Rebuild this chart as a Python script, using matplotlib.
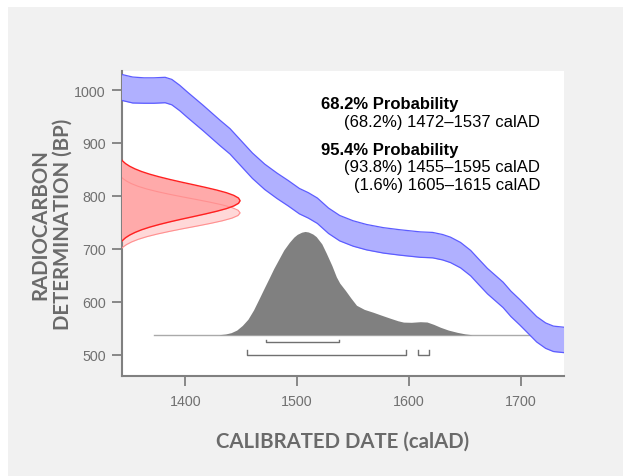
import matplotlib
matplotlib.use("Agg")
import matplotlib.pyplot as plt
from matplotlib.patches import Rectangle

# ---------------- data ----------------
# calibration curve (calAD, BP centre) and half-width of the band (BP)
curve_year = [1343, 1353, 1363, 1372, 1382, 1388, 1395, 1402, 1416, 1431, 1440, 1450,
              1460, 1471, 1482, 1492, 1502, 1510, 1518, 1528, 1538, 1550, 1562, 1577,
              1592, 1610, 1621, 1630, 1637, 1646, 1655, 1662, 1670, 1677, 1684, 1691,
              1699, 1707, 1714, 1722, 1729, 1738]
curve_bp = [1005, 1000, 999, 999, 1000, 996, 985, 972, 947, 919, 903, 880,
            857, 836, 819, 805, 790, 782, 772, 753, 739, 729, 722, 716,
            712, 708, 707, 703, 698, 688, 673, 657, 639, 626, 613, 596,
            580, 563, 548, 536, 530, 528]
curve_halfwidth = [24.5, 24.5, 24, 24, 24, 24, 24, 24, 24, 24, 24, 24,
                   24, 24, 24, 24, 24, 24, 24, 24, 24, 24, 24, 24,
                   24, 24, 24, 24, 24, 24, 24, 24, 24, 24, 24, 24,
                   24, 24, 24, 24, 24, 24]

# radiocarbon determination (BP offsets from centre, relative probability)
det_mean = 791
det_offset = [-90, -85, -80, -75, -70, -65, -60, -55, -50, -45, -40, -35, -30, -25, -20,
              -15, -10, -5, 0, 5, 10, 15, 20, 25, 30, 35, 40, 45, 50, 55, 60, 65, 70,
              75, 80, 85, 90]
det_prob = [0.015, 0.023, 0.036, 0.054, 0.078, 0.111, 0.154, 0.207, 0.272, 0.349, 0.435,
            0.528, 0.626, 0.722, 0.812, 0.89, 0.949, 0.987, 1.0, 0.987, 0.949, 0.89,
            0.812, 0.722, 0.626, 0.528, 0.435, 0.349, 0.272, 0.207, 0.154, 0.111, 0.078,
            0.054, 0.036, 0.023, 0.015]
det2_mean = 768
det2_offset = [-80, -75, -70, -65, -60, -55, -50, -45, -40, -35, -30, -25, -20, -15, -10,
               -5, 0, 5, 10, 15, 20, 25, 30, 35, 40, 45, 50, 55, 60, 65, 70, 75, 80]
det2_prob = [0.012, 0.021, 0.035, 0.055, 0.085, 0.126, 0.18, 0.249, 0.334, 0.432, 0.539,
             0.652, 0.76, 0.857, 0.934, 0.983, 1.0, 0.983, 0.934, 0.857, 0.76, 0.652,
             0.539, 0.432, 0.334, 0.249, 0.18, 0.126, 0.085, 0.055, 0.035, 0.021, 0.012]

# calibrated date distribution (calAD, relative probability)
post_year = [1430, 1436, 1441, 1446, 1451, 1456, 1461, 1466, 1470, 1475, 1479, 1484, 1488,
             1493, 1497, 1500, 1504, 1507, 1510, 1514, 1517, 1522, 1526, 1531, 1535, 1538,
             1543, 1548, 1553, 1560, 1568, 1575, 1583, 1590, 1595, 1602, 1610, 1616, 1622,
             1628, 1635, 1643, 1650, 1656]
post_prob = [0.0, 0.007, 0.02, 0.045, 0.09, 0.15, 0.24, 0.35, 0.44, 0.55, 0.64, 0.74, 0.82,
             0.895, 0.945, 0.972, 0.993, 1.0, 0.995, 0.975, 0.95, 0.88, 0.79, 0.67, 0.56,
             0.50, 0.43, 0.355, 0.285, 0.245, 0.217, 0.19, 0.16, 0.135, 0.122, 0.12, 0.126,
             0.123, 0.10, 0.072, 0.045, 0.023, 0.008, 0.0]
post_line = [1372, 1738]

# ranges
range68 = [(1472, 1537)]
range95 = [(1455, 1597), (1608, 1618)]

x_ticks = [1400, 1500, 1600, 1700]
y_ticks = [500, 600, 700, 800, 900, 1000]

# ---------------- figure ----------------
W, H = 623, 477
fig = plt.figure(figsize=(W / 100, H / 100), dpi=100)
fig.patch.set_facecolor("white")
fig.patches.append(Rectangle((8 / W, 0), 1 - 8 / W, (H - 8) / H, transform=fig.transFigure,
                             facecolor="#f1f1f1", edgecolor="none", zorder=-10))

ax_l, ax_r, ax_t, ax_b = 121.7, 564, 72, 377
ax = fig.add_axes([ax_l / W, (H - ax_b) / H, (ax_r - ax_l) / W, (ax_b - ax_t) / H])
ax.set_facecolor("white")
ax.set_xlim(1343.2, 1738.4)
ax.set_ylim(459.8, 1035.9)

# determination distributions on the y axis
x0, amp = 1338.0, 111.0
y2 = [det2_mean + o for o in det2_offset]
x2 = [x0 + amp * p for p in det2_prob]
ax.fill_betweenx(y2, x0, x2, color="#ffd8d8", lw=0, zorder=2)
y1 = [det_mean + o for o in det_offset]
x1 = [x0 + amp * p for p in det_prob]
ax.fill_betweenx(y1, x0, x1, color="#ffaaaa", lw=0, zorder=3)
ax.plot(x2, y2, color="#ff9090", lw=0.8, zorder=4)
ax.plot(x1, y1, color="#ff2020", lw=1.0, zorder=4)

# posterior
base, height = 537.8, 195
ax.plot(post_line, [base, base], color="#aaaaaa", lw=1.0, zorder=4)
ax.fill_between(post_year, base, [base + height * p for p in post_prob],
                color="#808080", lw=0, zorder=5)

# calibration band
lo = [c - h for c, h in zip(curve_bp, curve_halfwidth)]
hi = [c + h for c, h in zip(curve_bp, curve_halfwidth)]
ax.fill_between(curve_year, lo, hi, color="#b0b0ff", lw=0, zorder=6)
ax.plot(curve_year, lo, color="#5c5cff", lw=0.9, zorder=7)
ax.plot(curve_year, hi, color="#5c5cff", lw=0.9, zorder=7)

# range brackets
for (s, e) in range68:
    ax.plot([s, s, e, e], [528.3, 523.4, 523.4, 528.3], color="#707070", lw=1.0, zorder=5)
for (s, e) in range95:
    ax.plot([s, s, e, e], [508.9, 499.4, 499.4, 508.9], color="#707070", lw=1.0, zorder=5)

# axes styling
for s in ["top", "right"]:
    ax.spines[s].set_visible(False)
for s in ["left", "bottom"]:
    ax.spines[s].set_color("#808080")
    ax.spines[s].set_linewidth(1.5)
ax.set_xticks(x_ticks)
ax.set_yticks(y_ticks)
ax.tick_params(axis="both", length=7.2, width=1.3, color="#808080", labelcolor="#707070",
               labelsize=10.3)
ax.tick_params(axis="y", pad=4.3)
ax.tick_params(axis="x", pad=6.0)
for lab in ax.get_xticklabels() + ax.get_yticklabels():
    lab.set_fontfamily("Liberation Sans")

lab_font = dict(family="Lato", weight="bold", size=14.7, color="#6a6a6a")
ax.set_xlabel("CALIBRATED DATE (calAD)", va="center", **lab_font)
ax.xaxis.set_label_coords(0.5, (ax_b - 441.7) / (ax_b - ax_t))
ax.set_ylabel("RADIOCARBON\nDETERMINATION (BP)", va="center", ha="center", **lab_font)
ax.yaxis.set_label_coords((51.5 - ax_l) / (ax_r - ax_l), 0.5)

# text block
def fy(py):
    return (ax_b - py) / (ax_b - ax_t)

xl = (320.7 - ax_l) / (ax_r - ax_l)
xr = (540 - ax_l) / (ax_r - ax_l)
tf = dict(family="Liberation Sans", size=12, color="black", transform=ax.transAxes, zorder=10)
ax.text(xl, fy(105), "68.2% Probability", ha="left", va="center", weight="bold", **tf)
ax.text(xr, fy(122.5), "(68.2%) 1472\u20131537 calAD", ha="right", va="center", **tf)
ax.text(xl, fy(150), "95.4% Probability", ha="left", va="center", weight="bold", **tf)
ax.text(xr, fy(167.8), "(93.8%) 1455\u20131595 calAD", ha="right", va="center", **tf)
ax.text(xr, fy(185.5), "(1.6%) 1605\u20131615 calAD", ha="right", va="center", **tf)

fig.savefig("out.png", dpi=100)
